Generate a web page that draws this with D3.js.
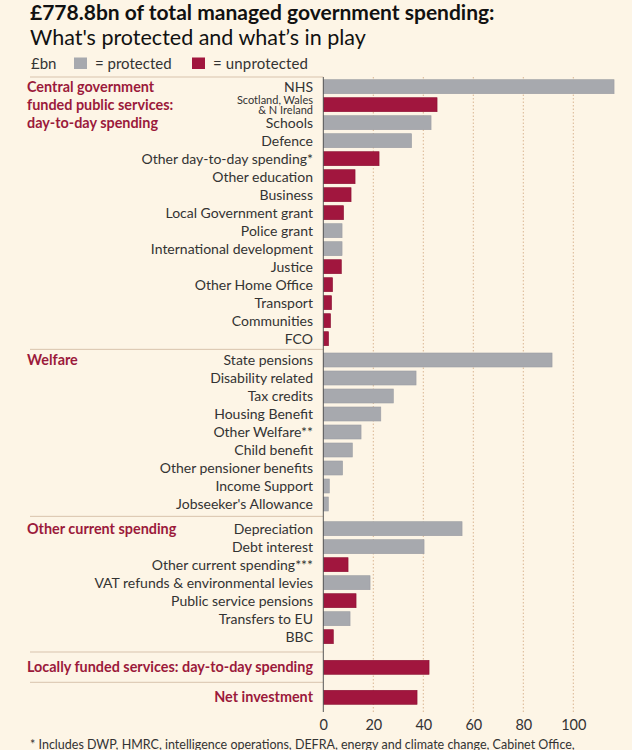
<!DOCTYPE html>
<html>
<head>
<meta charset="utf-8">
<script src="https://cdn.jsdelivr.net/npm/d3@7"></script>
<style>
  html, body { margin: 0; padding: 0; background: #fdf5e6; }
  svg { display: block; font-family: Lato, 'Open Sans', sans-serif; }
</style>
</head>
<body>
<svg id="chart" width="632" height="750"></svg>
<script>
// group names
const groupNames = [
  'Central government|funded public services:|day-to-day spending',
  'Welfare',
  'Other current spending',
  'Locally funded services: day-to-day spending',
  'Net investment'
]

// each row: label, £bn value, protected or not, group index
const categories = [
  'NHS', 'Scotland, Wales|& N Ireland', 'Schools', 'Defence', 'Other day-to-day spending*',
  'Other education', 'Business', 'Local Government grant', 'Police grant',
  'International development', 'Justice', 'Other Home Office', 'Transport', 'Communities', 'FCO',
  'State pensions', 'Disability related', 'Tax credits', 'Housing Benefit', 'Other Welfare**',
  'Child benefit', 'Other pensioner benefits', 'Income Support', "Jobseeker's Allowance",
  'Depreciation', 'Debt interest', 'Other current spending***', 'VAT refunds & environmental levies',
  'Public service pensions', 'Transfers to EU', 'BBC',
  '', ''
]
const values = [
  116.3, 45.5, 43.1, 35.3, 22.3, 12.7, 11.1, 8.1, 7.5, 7.5, 7.2, 3.7, 3.3, 2.9, 2.1,
  91.5, 37.1, 28.0, 23.0, 15.1, 11.6, 7.7, 2.4, 2.0,
  55.5, 40.3, 9.9, 18.7, 13.1, 10.7, 4.0,
  42.3,
  37.5
]
const isProtected = [
  true, false, true, true, false, false, false, false, true, true, false, false, false, false, false,
  true, true, true, true, true, true, true, true, true,
  true, true, false, true, false, true, false,
  false,
  false
]
const groupOf = [
  0, 0, 0, 0, 0, 0, 0, 0, 0, 0, 0, 0, 0, 0, 0,
  1, 1, 1, 1, 1, 1, 1, 1, 1,
  2, 2, 2, 2, 2, 2, 2,
  3,
  4
]
const xTicks = [0, 20, 40, 60, 80, 100]

const rows = categories.map((c, i) => ({
  label: c, value: values[i], prot: isProtected[i], group: groupOf[i]
}))

// layout
const grey = '#a7a9ae'
const red = '#a1163e'
const groupRed = '#9b1a3b'
const rule = '#d8c3ad'
const ink = '#333'
const rowStep = 18
const firstRow = 86.7
const groupGap = [0, 3.3, 6.7, 12.6, 12]
const barH = 14
const labelRight = 313
const leftEdge = 30

let gapSum = 0
rows.forEach((r, i) => {
  if (i > 0 && r.group !== rows[i - 1].group) gapSum += groupGap[r.group]
  r.slot = i + gapSum / rowStep
})

const svg = d3.select('#chart')
const x = d3.scaleLinear().domain([0, 120]).range([323.3, 623.3])
const y = d3.scaleLinear().domain([0, 1]).range([firstRow, firstRow + rowStep])

const topY = 77
const bottomY = 712

// title
svg.append('text').attr('x', 30).attr('y', 19.5)
  .text('£778.8bn of total managed government spending:')
  .style('font-size', '21px').style('font-weight', '700').style('fill', '#111')
svg.append('text').attr('x', 30).attr('y', 45)
  .text("What's protected and what\u2019s in play")
  .style('font-size', '21.5px').style('fill', '#111')

// legend
const legend = svg.append('g').style('font-size', '15px').style('fill', ink)
legend.append('text').attr('x', 31).attr('y', 68.5).text('£bn')
legend.append('rect').attr('x', 74).attr('y', 57.5).attr('width', 13).attr('height', 11.5).style('fill', grey)
legend.append('text').attr('x', 95).attr('y', 68.5).text('= protected')
legend.append('rect').attr('x', 192).attr('y', 57.5).attr('width', 13).attr('height', 11.5).style('fill', red)
legend.append('text').attr('x', 213).attr('y', 68.5).text('= unprotected')
  .attr('textLength', 95).attr('lengthAdjust', 'spacing')

// gridlines
svg.append('g').selectAll('line')
  .data(xTicks.filter(t => t > 0))
  .join('line')
  .attr('x1', d => x(d)).attr('x2', d => x(d))
  .attr('y1', topY).attr('y2', bottomY)
  .style('stroke', '#d9b693').style('stroke-width', 1).style('stroke-dasharray', '1.5,2')

// group separators
const sepYs = [topY]
rows.forEach((r, i) => {
  if (i > 0 && r.group !== rows[i - 1].group) {
    sepYs.push((y(r.slot) + y(rows[i - 1].slot)) / 2)
  }
})
svg.append('g').selectAll('line')
  .data(sepYs)
  .join('line')
  .attr('x1', leftEdge).attr('x2', x(0))
  .attr('y1', d => d).attr('y2', d => d)
  .style('stroke', rule).style('stroke-width', 1)

// bars
svg.append('g').selectAll('rect')
  .data(rows)
  .join('rect')
  .attr('x', x(0))
  .attr('y', d => y(d.slot) - barH / 2)
  .attr('width', d => x(d.value) - x(0))
  .attr('height', barH)
  .style('fill', d => d.prot ? grey : red)
  .style('stroke', d => d.prot ? '#9b9da3' : '#8a0f33')
  .style('stroke-width', 0.6)

// row labels
const labels = svg.append('g').style('font-size', '14px').style('fill', ink).attr('text-anchor', 'end')
rows.filter(r => r.label).forEach(r => {
  const parts = r.label.split('|')
  if (parts.length === 1) {
    labels.append('text').attr('x', labelRight).attr('y', y(r.slot) + 5).text(parts[0])
  } else {
    // two short lines in one text
    const t = labels.append('text').style('font-size', '11px')
    parts.forEach((p, pi) => {
      t.append('tspan').attr('x', labelRight).attr('y', y(r.slot) - 0.5 + pi * 9.5).text(p)
    })
  }
})

// group labels
const glabels = svg.append('g').style('font-size', '14.4px').style('font-weight', '700').style('fill', groupRed)
groupNames.forEach((g, gi) => {
  const first = rows.find(r => r.group === gi)
  const single = rows.filter(r => r.group === gi).length === 1
  if (single) {
    glabels.append('text').attr('x', labelRight).attr('y', y(first.slot) + 5)
      .attr('text-anchor', 'end').text(g)
  } else {
    g.split('|').forEach((line, li) => {
      glabels.append('text').attr('x', 27).attr('y', y(first.slot + li) + 5).text(line)
    })
  }
})

// axis
svg.append('line')
  .attr('x1', x(0)).attr('x2', x(0)).attr('y1', topY).attr('y2', bottomY)
  .style('stroke', '#555').style('stroke-width', 1)

const axis = d3.axisBottom(x).tickValues(xTicks).tickSize(0).tickPadding(0)
const axisG = svg.append('g').attr('transform', `translate(0, ${bottomY + 8})`).call(axis)
axisG.select('.domain').remove()
axisG.selectAll('text')
  .style('font-size', '14.5px').style('fill', ink)
  .style('font-family', 'Lato, sans-serif')
  .attr('dy', '0.71em')

// footnote
svg.append('text').attr('x', 30).attr('y', 748.5)
  .text('* Includes DWP, HMRC, intelligence operations, DEFRA, energy and climate change, Cabinet Office,')
  .style('font-size', '12.5px').style('fill', ink)
</script>
</body>
</html>
